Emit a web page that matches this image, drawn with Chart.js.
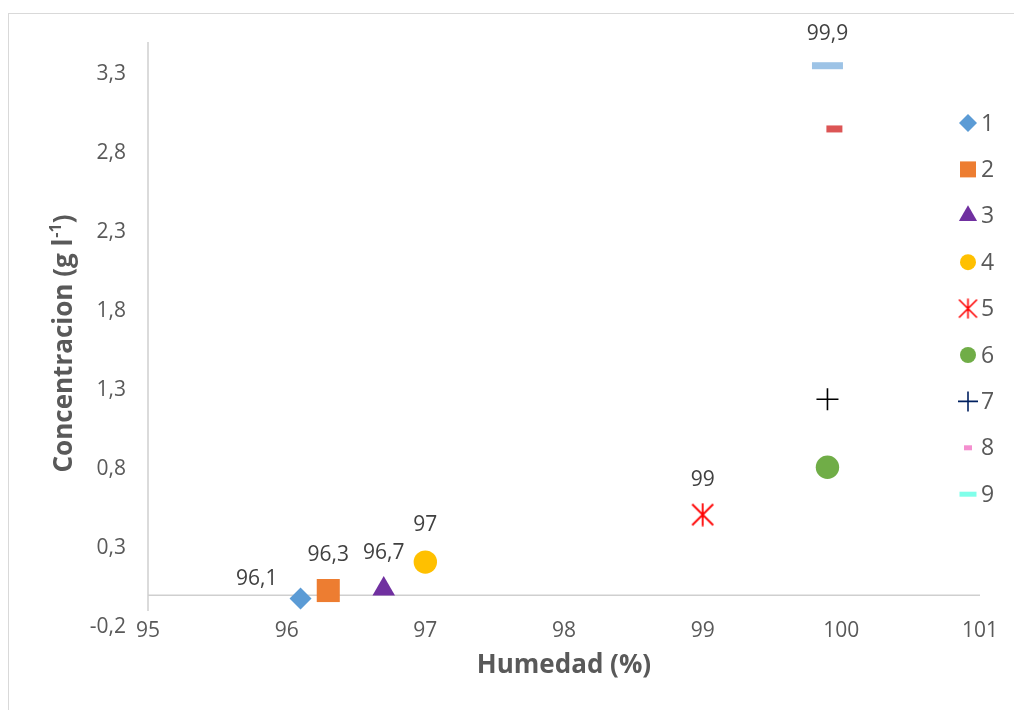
<!DOCTYPE html>
<html>
<head>
<meta charset="utf-8">
<script src="https://cdn.jsdelivr.net/npm/chart.js@4/dist/chart.umd.min.js"></script>
<style>
    body { margin: 0; overflow: hidden; background: #ffffff; }
    #wrap { position: relative; width: 1014px; height: 710px; }
    #frame { position: absolute; left: 8px; top: 13px; width: 1030px; height: 720px; border: 1px solid #d9d9d9; }
    canvas { position: absolute; left: 0; top: 0; }
</style>
</head>
<body>
<div id="wrap">
    <div id="frame"></div>
    <canvas id="humedadChart" width="1014" height="710"></canvas>
</div>
<script>
// Chart data
const series = ['1', '2', '3', '4', '5', '6', '7', '8', '9'];
const humedad = [96.1, 96.3, 96.7, 97, 99, 99.9, 99.9, 99.95, 99.9];
const concentracion = [-0.02, 0.03, 0.04, 0.21, 0.51, 0.81, 1.24, 2.95, 3.35];
const labelled = [true, true, true, true, true, false, false, false, true];
const xTicks = [95, 96, 97, 98, 99, 100, 101];
const yTicks = [-0.2, 0.3, 0.8, 1.3, 1.8, 2.3, 2.8, 3.3];
// plot area ends a little above the -0,2 tick so the x labels sit level with it
const yMin = -0.15;
const yMax = 3.5;
const yAxisLineBottom = -0.1;

// Excel-like star marker (x with a vertical bar)
function makeStar(size, color, width) {
    const c = document.createElement('canvas');
    c.width = size;
    c.height = size;
    const g = c.getContext('2d');
    g.strokeStyle = color;
    g.lineWidth = width;
    const m = 1.5;
    g.beginPath();
    g.moveTo(m, m); g.lineTo(size - m, size - m);
    g.moveTo(size - m, m); g.lineTo(m, size - m);
    g.moveTo(size / 2, 0.5); g.lineTo(size / 2, size - 0.5);
    g.stroke();
    return c;
}

const starBig = makeStar(24, '#FF0000', 1.8);
const starSmall = makeStar(21, '#FF0000', 1.6);

// Marker styles per series
const markers = [
    { pointStyle: 'rectRot', radius: 11, backgroundColor: '#5B9BD5', borderColor: '#5B9BD5', borderWidth: 0 },
    { pointStyle: 'rect', radius: 16.3, backgroundColor: '#ED7D31', borderColor: '#ED7D31', borderWidth: 0 },
    { pointStyle: 'triangle', radius: 13, backgroundColor: '#7030A0', borderColor: '#7030A0', borderWidth: 0 },
    { pointStyle: 'circle', radius: 11.7, backgroundColor: '#FFC000', borderColor: '#FFC000', borderWidth: 0 },
    { pointStyle: starBig, radius: 12, backgroundColor: '#FF0000', borderColor: '#FF0000', borderWidth: 0 },
    { pointStyle: 'circle', radius: 11.7, backgroundColor: '#70AD47', borderColor: '#70AD47', borderWidth: 0 },
    { pointStyle: 'cross', radius: 11, backgroundColor: '#000000', borderColor: '#000000', borderWidth: 1.6 },
    { pointStyle: 'line', radius: 8, backgroundColor: '#DC5555', borderColor: '#DC5555', borderWidth: 7 },
    { pointStyle: 'line', radius: 15.5, backgroundColor: '#9DC3E6', borderColor: '#9DC3E6', borderWidth: 7 }
];

// Legend markers are drawn a bit smaller and with their own colours
const legendMarkers = [
    { pointStyle: 'rectRot', radius: 9, color: '#5B9BD5', borderWidth: 0 },
    { pointStyle: 'rect', radius: 11.3, color: '#ED7D31', borderWidth: 0 },
    { pointStyle: 'triangle', radius: 10.5, color: '#7030A0', borderWidth: 0 },
    { pointStyle: 'circle', radius: 8, color: '#FFC000', borderWidth: 0 },
    { pointStyle: starSmall, radius: 10, color: '#FF0000', borderWidth: 0 },
    { pointStyle: 'circle', radius: 8, color: '#70AD47', borderWidth: 0 },
    { pointStyle: 'cross', radius: 10, color: '#002060', borderWidth: 1.6 },
    { pointStyle: 'line', radius: 4, color: '#F48FCF', borderWidth: 5 },
    { pointStyle: 'line', radius: 8.5, color: '#80FFEA', borderWidth: 5 }
];

const labelDx = [-23, 0, 0, 0, 0, 0, 0, 0, 0];
const labelDy = [-19, -36, -36, -37, -35, 0, 0, 0, -32];

function formatNumber(v) {
    return String(Math.round(v * 100) / 100).replace('.', ',');
}

// Axis lines: horizontal at y = 0 and vertical at x = min
const axisLines = {
    id: 'axisLines',
    beforeDatasetsDraw(chart) {
        const { ctx, scales: { x, y } } = chart;
        ctx.save();
        ctx.strokeStyle = '#cfcfcf';
        ctx.lineWidth = 1.5;
        ctx.beginPath();
        ctx.moveTo(x.getPixelForValue(x.min), y.getPixelForValue(0));
        ctx.lineTo(x.getPixelForValue(x.max), y.getPixelForValue(0));
        ctx.moveTo(x.getPixelForValue(x.min), y.getPixelForValue(y.max));
        ctx.lineTo(x.getPixelForValue(x.min), y.getPixelForValue(yAxisLineBottom));
        ctx.stroke();
        ctx.restore();
    }
};

// Y axis title with a real superscript
const yTitle = {
    id: 'yTitle',
    afterDraw(chart) {
        const ctx = chart.ctx;
        const main = 'Concentracion (g l';
        const sup = '-1';
        const close = ')';
        ctx.save();
        ctx.translate(65, 344);
        ctx.rotate(-Math.PI / 2);
        ctx.fillStyle = '#595959';
        ctx.textBaseline = 'middle';
        ctx.textAlign = 'left';
        ctx.font = 'bold 26px "Open Sans", sans-serif';
        const w1 = ctx.measureText(main).width;
        const w3 = ctx.measureText(close).width;
        ctx.font = 'bold 16px "Open Sans", sans-serif';
        const w2 = ctx.measureText(sup).width;
        let x = -(w1 + w2 + w3) / 2;
        ctx.font = 'bold 26px "Open Sans", sans-serif';
        ctx.fillText(main, x, 0);
        ctx.font = 'bold 16px "Open Sans", sans-serif';
        ctx.fillText(sup, x + w1 + 1, -9);
        ctx.font = 'bold 26px "Open Sans", sans-serif';
        ctx.fillText(close, x + w1 + w2 + 1, 0);
        ctx.restore();
    }
};

// Data labels showing the humidity value
const dataLabels = {
    id: 'dataLabels',
    afterDatasetsDraw(chart) {
        const ctx = chart.ctx;
        ctx.save();
        ctx.font = '21px "Open Sans", sans-serif';
        ctx.fillStyle = '#404040';
        ctx.textBaseline = 'middle';
        chart.data.datasets.forEach((ds, i) => {
            if (!labelled[i]) return;
            const el = chart.getDatasetMeta(i).data[0];
            ctx.textAlign = labelDx[i] < 0 ? 'right' : 'center';
            ctx.fillText(formatNumber(humedad[i]), el.x + labelDx[i], el.y + labelDy[i]);
        });
        ctx.restore();
    }
};

// Legend on the right side
const sideLegend = {
    id: 'sideLegend',
    afterDraw(chart) {
        const ctx = chart.ctx;
        ctx.save();
        ctx.font = '23px "Open Sans", sans-serif';
        ctx.textBaseline = 'middle';
        ctx.textAlign = 'left';
        series.forEach((name, i) => {
            const m = legendMarkers[i];
            const y = 123 + i * 46.4;
            ctx.fillStyle = m.color;
            ctx.strokeStyle = m.color;
            ctx.lineWidth = m.borderWidth;
            Chart.helpers.drawPoint(ctx, { pointStyle: m.pointStyle, radius: m.radius, rotation: 0, borderWidth: m.borderWidth }, 968, y);
            ctx.fillStyle = '#595959';
            ctx.fillText(name, 981, y + 1);
        });
        ctx.restore();
    }
};

Chart.defaults.font.family = '"Open Sans", sans-serif';

const datasets = series.map((name, i) => ({
    label: name,
    data: [{ x: humedad[i], y: concentracion[i] }],
    pointStyle: markers[i].pointStyle,
    pointRadius: markers[i].radius,
    pointBackgroundColor: markers[i].backgroundColor,
    pointBorderColor: markers[i].borderColor,
    pointBorderWidth: markers[i].borderWidth,
    clip: false
}));

const ctx = document.getElementById('humedadChart').getContext('2d');
const chartInstance = new Chart(ctx, {
    type: 'scatter',
    data: { datasets: datasets },
    options: {
        responsive: false,
        animation: false,
        events: [],
        layout: { padding: { top: 42, right: 34, bottom: 0, left: 0 } },
        plugins: {
            legend: { display: false },
            tooltip: { enabled: false }
        },
        scales: {
            x: {
                type: 'linear',
                min: 95,
                max: 101,
                grid: { display: false, drawTicks: false },
                border: { display: false },
                afterBuildTicks: axis => { axis.ticks = xTicks.map(v => ({ value: v })); },
                afterFit: scale => { scale.height = 91; },
                ticks: {
                    padding: -1,
                    color: '#595959',
                    font: { size: 21 },
                    callback: value => formatNumber(value)
                },
                title: {
                    display: true,
                    text: 'Humedad (%)',
                    color: '#595959',
                    font: { size: 26, weight: 'bold' },
                    padding: { top: 0, bottom: 29 }
                }
            },
            y: {
                type: 'linear',
                min: yMin,
                max: yMax,
                grid: { display: false, drawTicks: false },
                border: { display: false },
                afterBuildTicks: axis => { axis.ticks = yTicks.map(v => ({ value: v })); },
                afterFit: scale => { scale.width = 148; },
                ticks: {
                    padding: 22,
                    color: '#595959',
                    font: { size: 21 },
                    callback: value => value.toFixed(1).replace('.', ',')
                },
                title: { display: false }
            }
        }
    },
    plugins: [axisLines, dataLabels, sideLegend, yTitle]
});
</script>
</body>
</html>
